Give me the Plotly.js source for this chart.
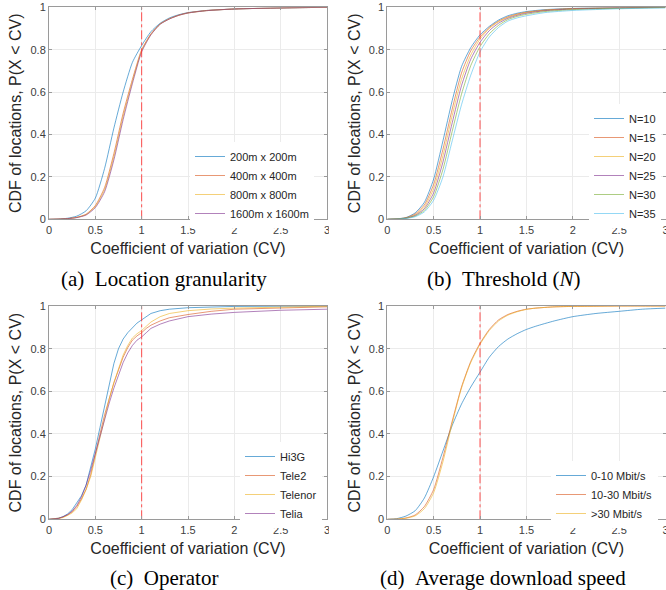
<!DOCTYPE html>
<html><head><meta charset="utf-8">
<script src="https://cdn.plot.ly/plotly-3.0.1.min.js"></script>
<style>html,body{margin:0;padding:0;overflow:hidden;background:#fff}#chart{width:676px;height:590px}</style>
</head><body><div id="chart"></div>
<script>
// ---------- data ----------
const xTicks = [0, 0.5, 1, 1.5, 2, 2.5, 3];
const yTicks = [0, 0.2, 0.4, 0.6, 0.8, 1];
const refLineX = [1, 1];
const refLineY = [0, 1];

// (a) Location granularity
const cvA = [0, 0.1, 0.2, 0.3, 0.4, 0.5, 0.6, 0.7, 0.8, 0.9, 1.0, 1.1, 1.2, 1.3, 1.4, 1.5, 1.7, 2.0, 2.5, 3.0];
const granNames = ['200m x 200m', '400m x 400m', '800m x 800m', '1600m x 1600m'];
const gran200  = [0, 0.001, 0.005, 0.015, 0.04, 0.10, 0.24, 0.43, 0.60, 0.74, 0.82, 0.885, 0.925, 0.95, 0.965, 0.975, 0.985, 0.992, 0.997, 1.0];
const gran400  = [0, 0.001, 0.003, 0.009, 0.024, 0.065, 0.15, 0.31, 0.50, 0.66, 0.80, 0.875, 0.922, 0.946, 0.963, 0.974, 0.985, 0.992, 0.997, 1.0];
const gran800  = [0, 0.001, 0.003, 0.009, 0.022, 0.06, 0.14, 0.295, 0.485, 0.65, 0.795, 0.872, 0.921, 0.946, 0.962, 0.973, 0.984, 0.992, 0.997, 1.0];
const gran1600 = [0, 0.001, 0.003, 0.008, 0.02, 0.055, 0.13, 0.28, 0.47, 0.64, 0.79, 0.87, 0.92, 0.945, 0.962, 0.973, 0.984, 0.992, 0.997, 1.0];

// (b) Threshold N
const cvB = [0, 0.1, 0.2, 0.3, 0.4, 0.5, 0.6, 0.7, 0.8, 0.9, 1.0, 1.1, 1.2, 1.3, 1.4, 1.5, 1.7, 2.0, 2.5, 3.0];
const threshNames = ['N=10', 'N=15', 'N=20', 'N=25', 'N=30', 'N=35'];
const n10 = [0, 0.002, 0.008, 0.03, 0.08, 0.19, 0.37, 0.56, 0.72, 0.81, 0.87, 0.91, 0.94, 0.96, 0.972, 0.98, 0.989, 0.995, 0.998, 1.0];
const n15 = [0, 0.002, 0.007, 0.025, 0.068, 0.165, 0.33, 0.52, 0.69, 0.795, 0.86, 0.905, 0.935, 0.955, 0.968, 0.977, 0.987, 0.994, 0.998, 1.0];
const n20 = [0, 0.002, 0.006, 0.021, 0.058, 0.145, 0.30, 0.49, 0.66, 0.775, 0.85, 0.90, 0.932, 0.952, 0.966, 0.975, 0.986, 0.993, 0.997, 1.0];
const n25 = [0, 0.001, 0.005, 0.018, 0.05, 0.125, 0.27, 0.455, 0.63, 0.755, 0.835, 0.89, 0.925, 0.948, 0.962, 0.972, 0.984, 0.992, 0.997, 1.0];
const n30 = [0, 0.001, 0.005, 0.015, 0.042, 0.107, 0.235, 0.415, 0.59, 0.725, 0.815, 0.875, 0.915, 0.942, 0.957, 0.967, 0.98, 0.989, 0.995, 0.999];
const n35 = [0, 0.001, 0.004, 0.012, 0.035, 0.09, 0.20, 0.37, 0.54, 0.68, 0.79, 0.86, 0.905, 0.935, 0.95, 0.96, 0.975, 0.985, 0.993, 0.997];

// (c) Operator
const cvC = [0, 0.1, 0.15, 0.2, 0.25, 0.3, 0.35, 0.4, 0.45, 0.5, 0.55, 0.6, 0.65, 0.7, 0.75, 0.8, 0.85, 0.9, 0.95, 1.0, 1.05, 1.1, 1.2, 1.3, 1.5, 1.75, 2.0, 2.5, 3.0];
const opNames = ['Hi3G', 'Tele2', 'Telenor', 'Telia'];
const hi3g    = [0, 0.005, 0.012, 0.025, 0.045, 0.075, 0.11, 0.16, 0.24, 0.33, 0.43, 0.53, 0.63, 0.73, 0.80, 0.845, 0.875, 0.90, 0.92, 0.935, 0.95, 0.965, 0.978, 0.985, 0.992, 0.996, 0.998, 0.999, 1.0];
const tele2   = [0, 0.003, 0.01, 0.02, 0.035, 0.06, 0.095, 0.14, 0.21, 0.31, 0.40, 0.49, 0.57, 0.64, 0.70, 0.76, 0.805, 0.84, 0.86, 0.875, 0.895, 0.91, 0.93, 0.945, 0.96, 0.975, 0.985, 0.992, 0.996];
const telenor = [0, 0.003, 0.008, 0.018, 0.03, 0.05, 0.09, 0.14, 0.20, 0.29, 0.385, 0.48, 0.565, 0.64, 0.71, 0.77, 0.815, 0.85, 0.87, 0.885, 0.905, 0.925, 0.95, 0.965, 0.978, 0.986, 0.99, 0.996, 0.999];
const telia   = [0, 0.004, 0.012, 0.022, 0.038, 0.065, 0.105, 0.16, 0.23, 0.31, 0.39, 0.47, 0.545, 0.615, 0.68, 0.735, 0.78, 0.815, 0.84, 0.855, 0.875, 0.895, 0.915, 0.93, 0.95, 0.962, 0.97, 0.98, 0.985];

// (d) Average download speed
const cvD = [0, 0.1, 0.2, 0.3, 0.4, 0.5, 0.6, 0.7, 0.8, 0.9, 1.0, 1.1, 1.2, 1.3, 1.4, 1.5, 1.6, 1.8, 2.0, 2.25, 2.5, 2.75, 3.0];
const speedNames = ['0-10 Mbit/s', '10-30 Mbit/s', '>30 Mbit/s'];
const speedLow  = [0, 0.003, 0.015, 0.04, 0.10, 0.20, 0.32, 0.44, 0.54, 0.62, 0.69, 0.76, 0.81, 0.845, 0.87, 0.89, 0.905, 0.93, 0.95, 0.965, 0.975, 0.985, 0.99];
const speedMid  = [0, 0.001, 0.006, 0.02, 0.06, 0.14, 0.29, 0.46, 0.62, 0.74, 0.825, 0.89, 0.935, 0.96, 0.975, 0.985, 0.99, 0.996, 0.998, 0.999, 1.0, 1.0, 1.0];
const speedHigh = [0, 0.001, 0.005, 0.016, 0.05, 0.125, 0.27, 0.45, 0.615, 0.735, 0.82, 0.885, 0.93, 0.957, 0.973, 0.984, 0.99, 0.996, 0.998, 0.999, 1.0, 1.0, 1.0];

// ---------- styling ----------
const W = 676, H = 590;
const C = ['#0072BD', '#D95319', '#EDB120', '#7E2F8E', '#77AC30', '#4DBEEE'];
const SANS = 'Liberation Sans, Arial, Helvetica, sans-serif';
const SERIF = 'Liberation Serif, Times New Roman, serif';
const px = v => v / W, py = v => 1 - v / H;

function curve(x, y, name, color, xa, ya, leg, shape) {
  return {x: x, y: y, name: name, type: 'scatter', mode: 'lines', xaxis: xa, yaxis: ya, legend: leg,
    line: {color: color, width: 1, shape: shape || 'spline', smoothing: 0.6}, opacity: 0.6, hoverinfo: 'skip'};
}
function refLine(xa, ya) {
  return {x: refLineX, y: refLineY, type: 'scatter', mode: 'lines', xaxis: xa, yaxis: ya, showlegend: false,
    line: {color: '#ff3030', width: 1, dash: 'dashdot'}, opacity: 0.85, hoverinfo: 'skip'};
}

const traces = [];
[gran200, gran400, gran800, gran1600].forEach((s, i) => traces.push(curve(cvA, s, granNames[i], C[i], 'x', 'y', 'legend')));
traces.push(refLine('x', 'y'));
[n10, n15, n20, n25, n30, n35].forEach((s, i) => traces.push(curve(cvB, s, threshNames[i], C[i], 'x2', 'y2', 'legend2')));
traces.push(refLine('x2', 'y2'));
[hi3g, tele2, telenor, telia].forEach((s, i) => traces.push(curve(cvC, s, opNames[i], C[i], 'x3', 'y3', 'legend3', 'linear')));
traces.push(refLine('x3', 'y3'));
[speedLow, speedMid, speedHigh].forEach((s, i) => traces.push(curve(cvD, s, speedNames[i], C[i], 'x4', 'y4', 'legend4')));
traces.push(refLine('x4', 'y4'));

function xAxis(dom, anchor) {
  return {domain: dom, anchor: anchor, range: [0, 3], tickvals: xTicks, ticks: 'inside', ticklen: 3,
    tickcolor: '#9a9a9a', showline: true, linecolor: '#9a9a9a', linewidth: 1, mirror: 'ticks',
    showgrid: true, gridcolor: '#ebebeb', zeroline: false, automargin: false, ticklabeloverflow: 'allow',
    tickfont: {family: SANS, size: 11, color: '#404040'},
    title: {text: 'Coefficient of variation (CV)', font: {family: SANS, size: 16, color: '#262626'}, standoff: 8}};
}
function yAxis(dom, anchor) {
  return {domain: dom, anchor: anchor, range: [0, 1], tickvals: yTicks, ticks: 'inside', ticklen: 3,
    tickcolor: '#9a9a9a', showline: true, linecolor: '#9a9a9a', linewidth: 1, mirror: 'ticks',
    showgrid: true, gridcolor: '#ebebeb', zeroline: false, automargin: false,
    tickfont: {family: SANS, size: 11, color: '#404040'},
    title: {text: 'CDF of locations, P(X &lt; CV)', font: {family: SANS, size: 16, color: '#262626'}, standoff: 4}};
}
function legendAt(x, yTop) {
  return {x: px(x), y: py(yTop), xanchor: 'left', yanchor: 'top', bgcolor: '#ffffff', borderwidth: 0,
    itemwidth: 30, font: {family: SANS, size: 11, color: '#262626'}, tracegroupgap: 0};
}
const domLeft = [px(49), px(327)], domRight = [px(387.3), px(665.5)];
const domTop = [py(219.3), py(7.3)], domBottom = [py(519.3), py(306)];

const layout = {
  width: W, height: H, margin: {l: 0, r: 0, t: 0, b: 0}, paper_bgcolor: '#fff', plot_bgcolor: '#fff',
  font: {family: SANS},
  xaxis: xAxis(domLeft, 'y'), yaxis: yAxis(domTop, 'x'),
  xaxis2: xAxis(domRight, 'y2'), yaxis2: yAxis(domTop, 'x2'),
  xaxis3: xAxis(domLeft, 'y3'), yaxis3: yAxis(domBottom, 'x3'),
  xaxis4: xAxis(domRight, 'y4'), yaxis4: yAxis(domBottom, 'x4'),
  legend: legendAt(190, 142), legend2: legendAt(589, 104), legend3: legendAt(240, 442), legend4: legendAt(551, 461),
  annotations: [
    {text: '(a)&nbsp;&nbsp;Location granularity', x: px(163.5), y: py(279)},
    {text: '(b)&nbsp;&nbsp;Threshold (<i>N</i>)', x: px(503), y: py(279)},
    {text: '(c)&nbsp;&nbsp;Operator', x: px(164), y: py(578)},
    {text: '(d)&nbsp;&nbsp;Average download speed', x: px(503), y: py(578)}
  ].map(a => Object.assign(a, {xref: 'paper', yref: 'paper', xanchor: 'center', yanchor: 'middle', showarrow: false,
    font: {family: SERIF, size: 21, color: '#000'}})),
  shapes: [
    {type: 'rect', xref: 'paper', yref: 'paper', x0: px(329), x1: px(345), y0: py(242), y1: py(222), fillcolor: '#fff', line: {width: 0}, layer: 'above'},
    {type: 'rect', xref: 'paper', yref: 'paper', x0: px(329), x1: px(345), y0: py(542), y1: py(522), fillcolor: '#fff', line: {width: 0}, layer: 'above'}
  ]
};
Plotly.newPlot('chart', traces, layout, {staticPlot: true, displayModeBar: false});
</script></body></html>
